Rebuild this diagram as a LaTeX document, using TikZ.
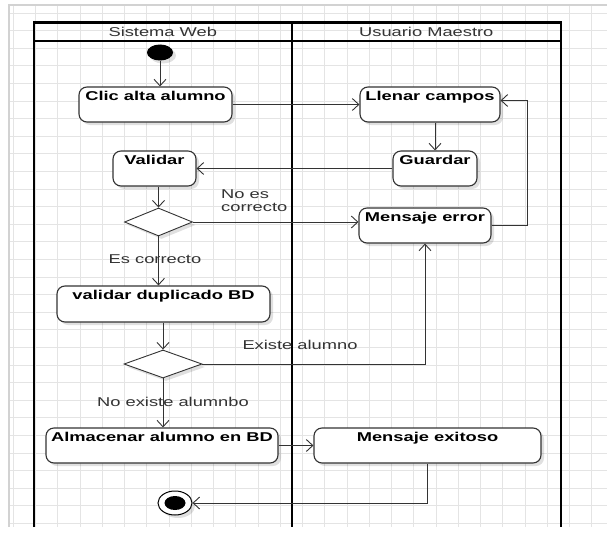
\documentclass[tikz,border=0pt]{standalone}
\usepackage{fontspec}
\setmainfont{Liberation Sans}
\newfontfamily\widesans[FakeStretch=1.43]{Liberation Sans}
\usetikzlibrary{arrows.meta,shapes.geometric,shadows,calc}

\definecolor{gridline}{HTML}{E4E4E4}
\definecolor{pageedge}{HTML}{D2D2D2}
\definecolor{ink}{HTML}{333333}

\tikzset{
  action/.style={draw=ink, line width=1.1pt, rounded corners=8pt, fill=white,
    inner sep=0pt,
    drop shadow={shadow xshift=3pt, shadow yshift=-3pt, opacity=0.12, fill=black}},
  actext/.style={anchor=north, inner sep=0pt, yshift=-5pt,
    font=\widesans\bfseries\fontsize{12.8}{14}\selectfont, text=black},
  decision/.style={diamond, draw=ink, line width=0.9pt, fill=white, inner sep=0pt,
    drop shadow={shadow xshift=3pt, shadow yshift=-3pt, opacity=0.12, fill=black}},
  flow/.style={draw=ink, line width=0.9pt, -{Straight Barb[length=6.5pt,width=12pt,line width=0.9pt]}},
  guard/.style={text=ink, inner sep=0pt, font=\widesans\fontsize{12.8}{14}\selectfont, align=left},
  lanehead/.style={text=ink, font=\widesans\fontsize{12.8}{14}\selectfont},
  lane/.style={draw=black, line width=2.4pt},
}

\begin{document}
\begin{tikzpicture}[x=1pt,y=-1pt]
\useasboundingbox (0,0) rectangle (607,535);
\fill[white] (0,0) rectangle (607,535);

% background grid of the editor canvas
\begin{scope}
  \clip (9,5) rectangle (607,527);
  \foreach \gx in {0,...,26} \draw[gridline, line width=0.8pt] (13.3+22.25*\gx,5) -- (13.3+22.25*\gx,527);
  \foreach \gy in {0,...,30} \draw[gridline, line width=0.8pt] (9,13+17.6*\gy) -- (607,13+17.6*\gy);
\end{scope}
\draw[pageedge, line width=1.5pt] (607,5) -- (9,5) -- (9,527);

% swimlanes
\draw[lane] (34,527) -- (34,22.7) -- (561,22.7) -- (561,527);
\draw[lane] (291.7,22.7) -- (291.7,527);
\draw[lane, line width=2pt] (34,41.3) -- (561,41.3);
\node[lanehead] (laneA) at (162.8,32) {Sistema Web};
\node[lanehead] (laneB) at (426.3,32) {Usuario Maestro};

% initial and final states
\node[ellipse, fill=black, minimum width=26pt, minimum height=16pt, inner sep=0pt,
  drop shadow={shadow xshift=3pt, shadow yshift=-3pt, opacity=0.12, fill=black}] (start) at (160,52.5) {};
\node[ellipse, draw=black, line width=1pt, fill=white, minimum width=34pt, minimum height=24pt, inner sep=0pt,
  drop shadow={shadow xshift=3pt, shadow yshift=-3pt, opacity=0.12, fill=black}] (final) at (175,503) {};
\node[ellipse, fill=black, minimum width=21pt, minimum height=14pt, inner sep=0pt] (finaldot) at (final) {};

% actions
\node[action, minimum width=153pt, minimum height=35pt, label={[actext]north:Clic alta alumno}] (clic) at (155.5,104.5) {};
\node[action, minimum width=140pt, minimum height=35pt, label={[actext]north:Llenar campos}] (llenar) at (430,104.5) {};
\node[action, minimum width=84pt, minimum height=35pt, label={[actext]north:Guardar}] (guardar) at (435,168.5) {};
\node[action, minimum width=83pt, minimum height=35pt, label={[actext]north:Validar}] (validar) at (154.5,168.5) {};
\node[action, minimum width=132pt, minimum height=35pt, label={[actext]north:Mensaje error}] (merror) at (425,225.5) {};
\node[action, minimum width=213pt, minimum height=36pt, label={[actext]north:validar duplicado BD}] (vdup) at (163.5,304) {};
\node[action, minimum width=232pt, minimum height=35pt, label={[actext]north:Almacenar alumno en BD}] (almacenar) at (162,445.5) {};
\node[action, minimum width=227pt, minimum height=35pt, label={[actext]north:Mensaje exitoso}] (exitoso) at (427.5,445.5) {};

% decisions
\node[decision, minimum width=68pt, minimum height=28pt] (d1) at (158.5,222) {};
\node[decision, minimum width=78pt, minimum height=28pt] (d2) at (163,364) {};

% guard labels
\node[guard, anchor=west] (gNo) at (221,200.5) {No es\\[-0.5pt]correcto};
\node[guard] (gEs) at (155,259.5) {Es correcto};
\node[guard] (gEx) at (300,345) {Existe alumno};
\node[guard] (gNx) at (173,402) {No existe alumnbo};

% return corner of the error loop
\coordinate (loopx) at (527,0);

% control flow
\draw[flow] (start.south) -- (start.south |- clic.north);
\draw[flow] (clic.east) -- (llenar.west);
\draw[flow] (llenar.south -| guardar.north) -- (guardar.north);
\draw[flow] (guardar.west) -- (validar.east);
\draw[flow] (validar.south -| d1.north) -- (d1.north);
\draw[flow] (d1.east) -- (d1.east -| merror.west);
\draw[flow] (merror.east) -- (merror.east -| loopx) |- ([yshift=4pt]llenar.east);
\draw[flow] (d1.south) -- (d1.south |- vdup.north);
\draw[flow] (vdup.south -| d2.north) -- (d2.north);
\draw[flow] (d2.east) -| (merror.south);
\draw[flow] (d2.south) -- (d2.south |- almacenar.north);
\draw[flow] (almacenar.east) -- (exitoso.west);
\draw[flow] (exitoso.south) |- (final.east);
\end{tikzpicture}
\end{document}
